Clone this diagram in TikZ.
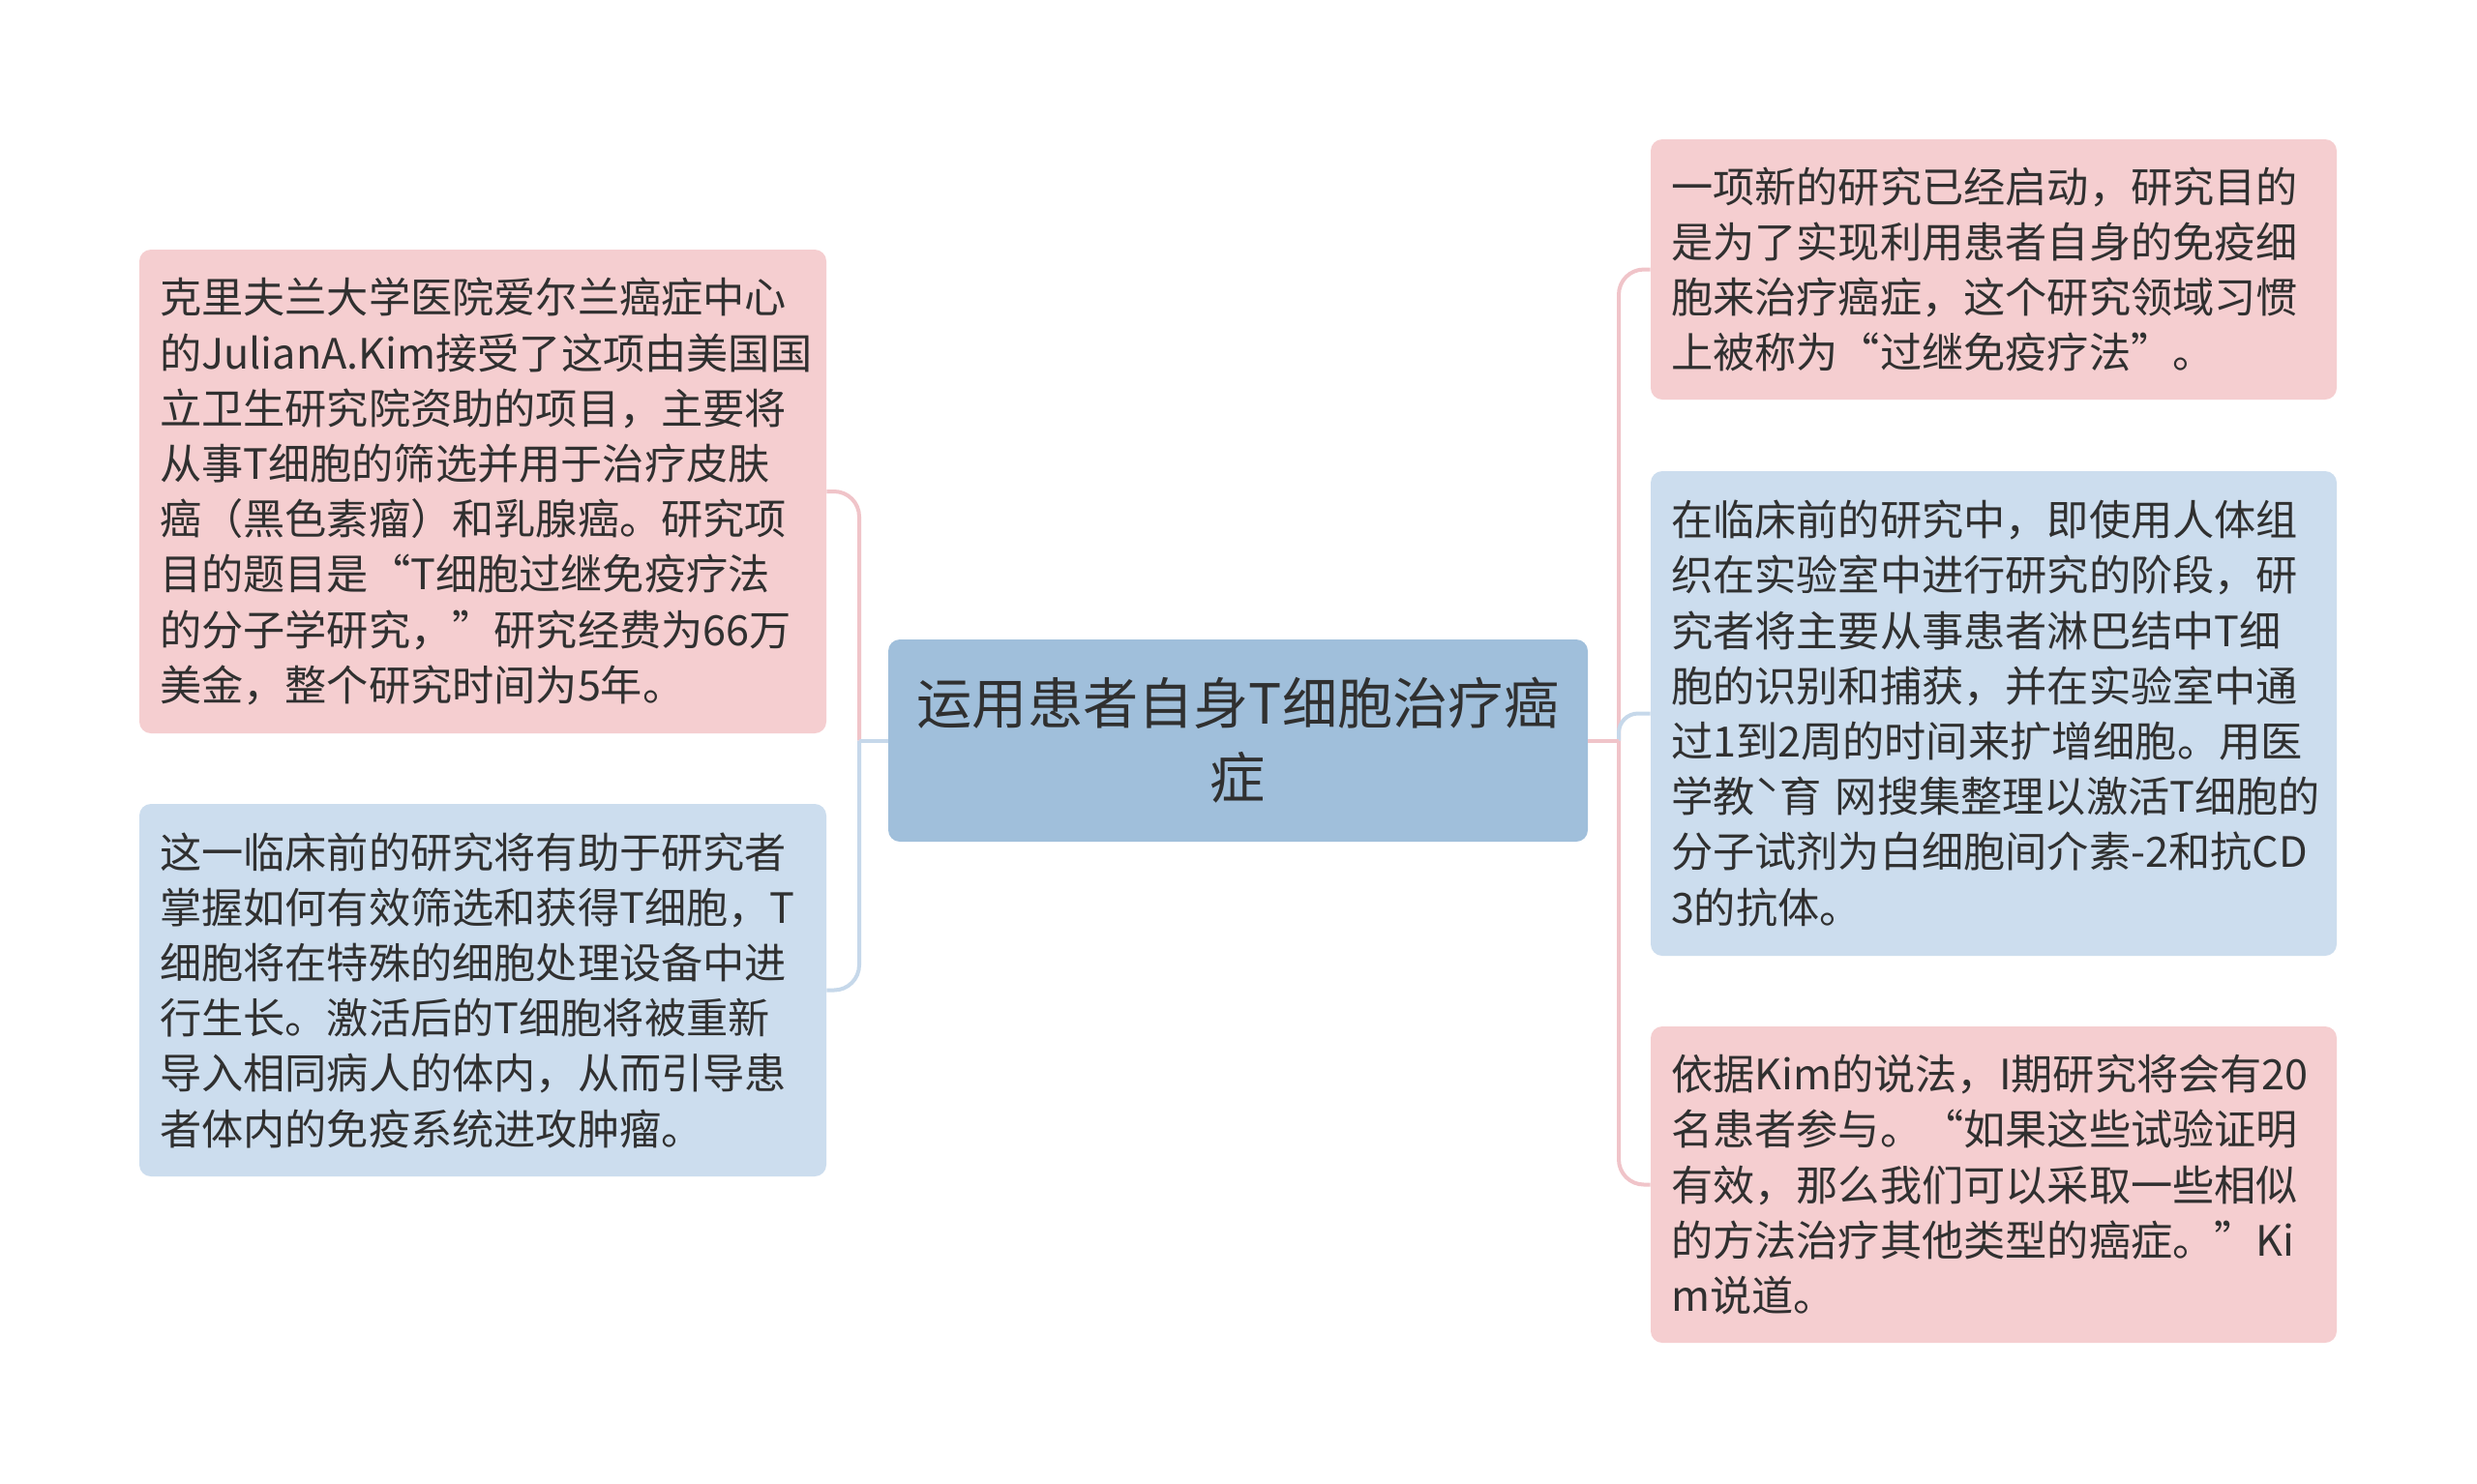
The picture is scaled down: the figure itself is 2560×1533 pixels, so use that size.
\documentclass[tikz,border=0pt]{standalone}
\usepackage{fontspec}
\setmainfont{Noto Sans CJK SC}
\definecolor{pinkfill}{RGB}{245,206,208}
\definecolor{bluefill}{RGB}{204,221,238}
\definecolor{centerfill}{RGB}{160,191,219}
\definecolor{txt}{RGB}{48,48,48}
\definecolor{pinkln}{RGB}{240,196,201}
\definecolor{blueln}{RGB}{198,216,234}
\tikzset{
  leaf/.style={rectangle, rounded corners=6pt, draw=none, text=txt,
    align=left, inner xsep=10.5pt, inner ysep=0pt, anchor=center,
    font=\fontsize{21.6pt}{28.6pt}\selectfont},
  pinkleaf/.style={leaf, fill=pinkfill},
  blueleaf/.style={leaf, fill=bluefill},
  rootnode/.style={rectangle, rounded corners=6pt, fill=centerfill, text=txt,
    align=center, minimum width=361.5pt, minimum height=104.5pt,
    font=\fontsize{28.6pt}{38.5pt}\selectfont},
  pinkline/.style={draw=pinkln, line width=2pt},
  blueline/.style={draw=blueln, line width=2pt},
}
\begin{document}
\begin{tikzpicture}[x=0.5pt,y=-0.5pt]
\useasboundingbox[fill=white] (0,0) rectangle (2560,1533);

\node[rootnode] (root) at (1279.5,765.5) {运用患者自身T细胞治疗癌\\症};

\node[pinkleaf, text width=334pt, minimum width=355pt, minimum height=250pt] (l1) at (499,508)
{克里夫兰大学医院爱尔兰癌症中心\\的JulianA.Kim接受了这项由美国国\\立卫生研究院资助的项目，主要将\\从事T细胞的筛选并用于治疗皮肤\\癌（黑色素瘤）和乳腺癌。研究项\\目的题目是“T细胞过继免疫疗法\\的分子学研究，”研究经费为66万\\美金，整个研究时间为5年。};

\node[blueleaf, text width=334pt, minimum width=355pt, minimum height=192.5pt] (l2) at (499,1023.5)
{这一临床前的研究将有助于研究者\\掌握如何有效筛选和获得T细胞，T\\细胞将在特殊的细胞处理设备中进\\行生长。激活后的T细胞将被重新\\导入相同病人的体内，从而引导患\\者体内的免疫系统进攻肿瘤。};

\node[pinkleaf, text width=333.5pt, minimum width=354.5pt, minimum height=134.5pt] (r1) at (2060.5,278.5)
{一项新的研究已经启动，研究目的\\是为了实现利用患者自身的免疫细\\胞来治疗癌症，这个研究领域习惯\\上被称为“过继免疫疗法”。};

\node[blueleaf, text width=333.5pt, minimum width=354.5pt, minimum height=250.5pt] (r2) at (2060.5,737.5)
{在临床前的研究中，即使用人体组\\织在实验室中进行研究的阶段，研\\究者将主要从事患者淋巴结中T细\\胞的识别和捕获，并在实验室中通\\过1到2周的时间来扩增细胞。用医\\学教ˋ育~网搜集整理以激活T细胞的\\分子试剂为白细胞间介素-2和抗CD\\3的抗体。};

\node[pinkleaf, text width=333.5pt, minimum width=354.5pt, minimum height=163.5pt] (r3) at (2060.5,1224.5)
{依据Kim的说法，I期研究将会有20\\名患者参与。“如果这些试验证明\\有效，那么我们可以采取一些相似\\的方法治疗其他类型的癌症。”Ki\\m说道。};

\coordinate (jl) at (888,765.5);
\coordinate (jr) at (1673,765.5);

\draw[pinkline, rounded corners=13pt] (jl) |- (l1.east);
\draw[blueline, rounded corners=13pt] (jl) |- (l2.east);
\draw[blueline] (root.west) -- (jl);

\draw[pinkline, rounded corners=13pt] (jr) |- (r1.west);
\draw[pinkline, rounded corners=13pt] (jr) |- (r3.west);
\draw[blueline, rounded corners=10pt] (jr) |- (r2.west);
\draw[pinkline] (root.east) -- (jr);
\end{tikzpicture}
\end{document}
